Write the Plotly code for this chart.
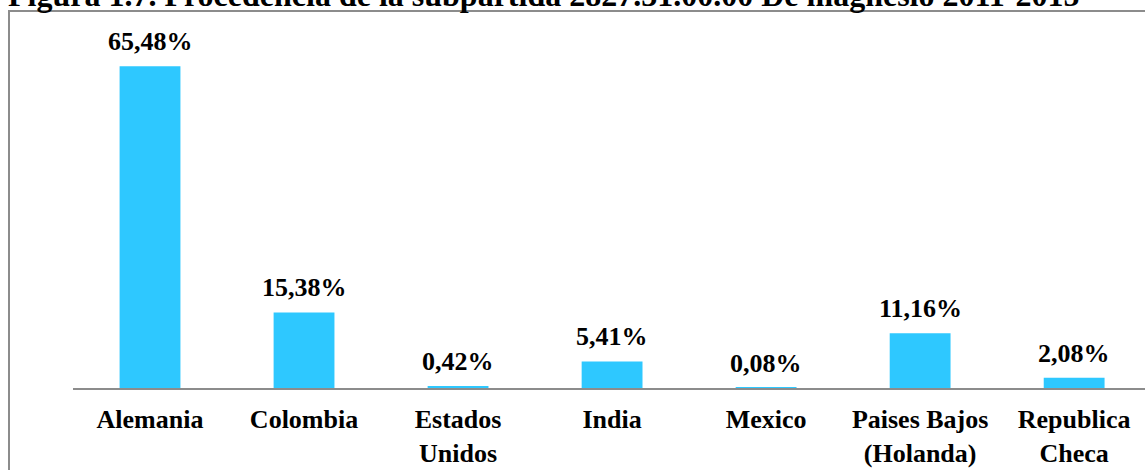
import plotly.graph_objects as go

categories = ["Alemania", "Colombia", "Estados<br>Unidos", "India", "Mexico",
              "Paises Bajos<br>(Holanda)", "Republica<br>Checa"]
values = [65.48, 15.38, 0.42, 5.41, 0.08, 11.16, 2.08]
value_labels = ["65,48%", "15,38%", "0,42%", "5,41%", "0,08%", "11,16%", "2,08%"]
title_text = "Figura 1.7. Procedencia de la subpartida 2827.31.00.00 De magnesio 2011-2015"

W, H = 1145, 470
L, R, T, B = 73, 0, 44, 82
pw, ph = W - L - R, H - T - B

def px2x(px):
    return (px - L) / pw

def py2y(py):
    return (H - B - py) / ph

font_family = "Liberation Serif"
bar_color = "#2EC8FF"

fig = go.Figure()
fig.add_trace(go.Bar(
    x=list(range(len(categories))), y=values,
    marker=dict(color=bar_color, line=dict(width=0)),
    width=0.395,
    hoverinfo="skip",
))

annotations = []
for i, (v, lab) in enumerate(zip(values, value_labels)):
    annotations.append(dict(
        x=i, y=v, xref="x", yref="y", text="<b>%s</b>" % lab,
        showarrow=False, yanchor="bottom", yshift=8,
        font=dict(family=font_family, size=26, color="black"),
    ))
annotations.append(dict(
    x=px2x(6), y=py2y(15), xref="paper", yref="paper",
    text="<b>%s</b>" % title_text, showarrow=False,
    xanchor="left", yanchor="bottom",
    font=dict(family=font_family, size=32, color="black"),
))

fig.update_layout(
    width=W, height=H,
    margin=dict(l=L, r=R, t=T, b=B, pad=0),
    paper_bgcolor="white", plot_bgcolor="white",
    showlegend=False,
    annotations=annotations,
    xaxis=dict(
        range=[-0.5, 6.46],
        tickmode="array", tickvals=list(range(len(categories))),
        ticktext=["<b>%s</b>" % c for c in categories],
        tickfont=dict(family=font_family, size=26, color="black"),
        ticklabelstandoff=7,
        showline=True, linecolor="#8C8C8C", linewidth=2,
        ticks="", showgrid=False, zeroline=False,
        fixedrange=True,
    ),
    yaxis=dict(
        range=[0, 70], visible=False, showgrid=False, zeroline=False,
        fixedrange=True,
    ),
    shapes=[dict(
        type="rect", xref="paper", yref="paper",
        x0=px2x(9), x1=px2x(1160), y0=py2y(500), y1=py2y(11),
        line=dict(color="#8C8C8C", width=2), fillcolor="rgba(0,0,0,0)",
        layer="below",
    )],
)

fig.write_html("out.html", config={"displayModeBar": False},
               post_script="document.body.style.margin='0';")
